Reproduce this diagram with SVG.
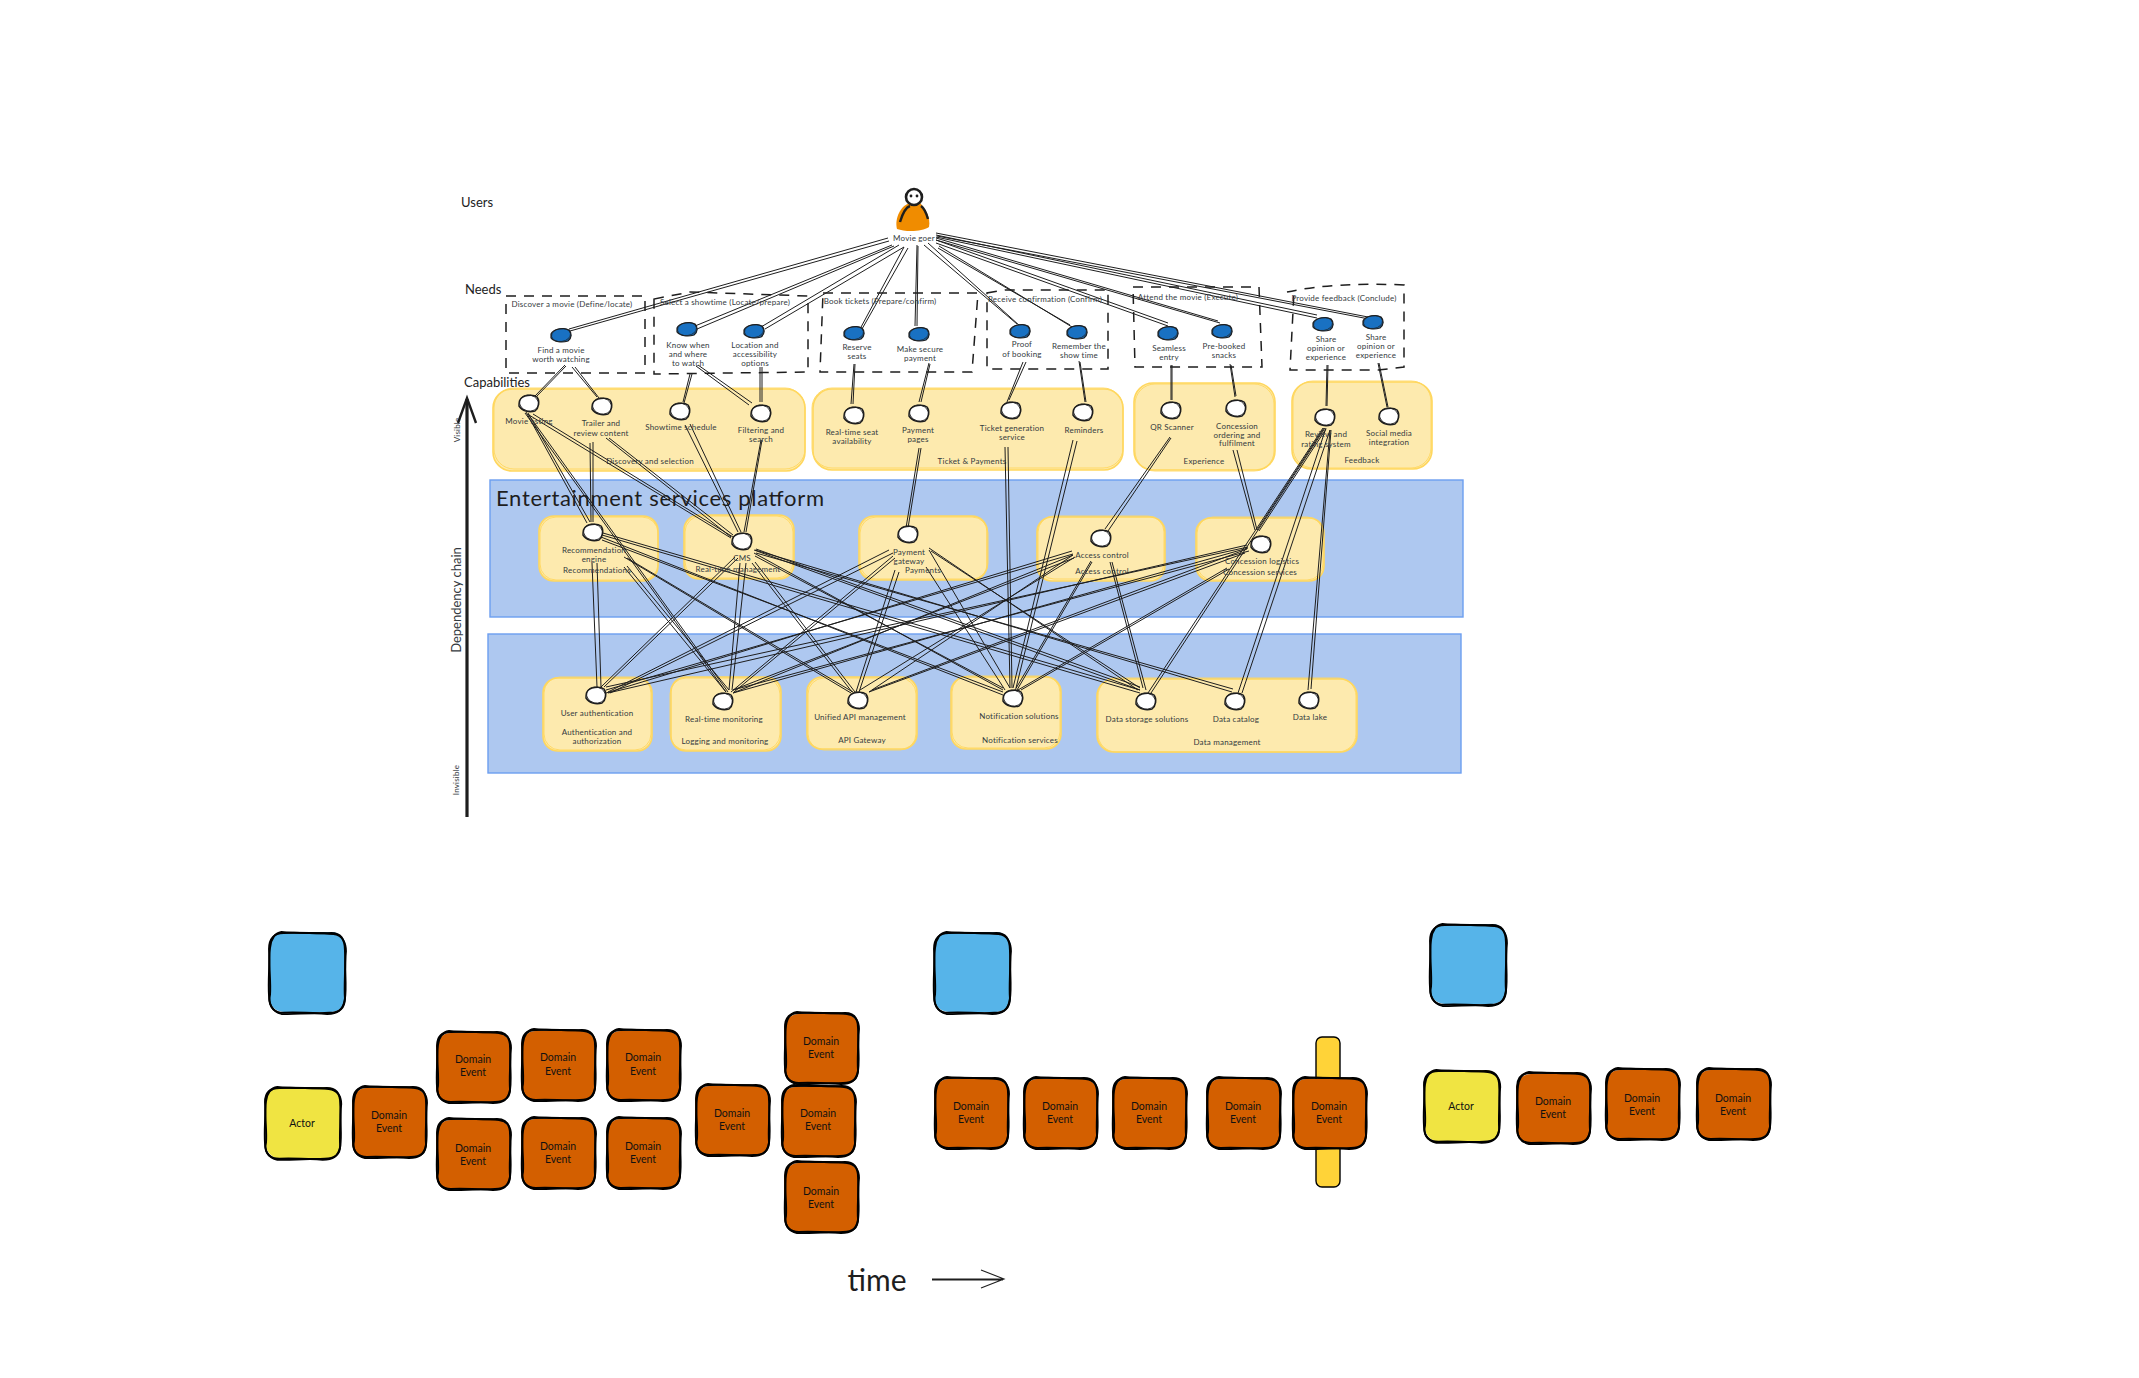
<svg xmlns="http://www.w3.org/2000/svg" width="2139" height="1378" viewBox="0 0 2139 1378">
<style>
text{font-family:"Lato","Noto Sans",sans-serif;fill:#343a40;text-anchor:middle;dominant-baseline:central}
.s{font-size:8px;letter-spacing:.2px}
.m{font-size:10.5px;fill:#111}
.h{font-size:13px;fill:#222;text-anchor:start}
.band{fill:#aec8f0;stroke:#6c9ef0;stroke-width:1.4}
.card{fill:#fdeaae;stroke:#ffd75e;stroke-width:1.6}
.sk{fill:none;stroke:#ffd75e;stroke-width:.9}
.dash{fill:none;stroke:#1e1e1e;stroke-width:1.5;stroke-dasharray:10 8}
#conn path{fill:none;stroke:#1e1e1e;stroke-width:1}
.ol{fill:none;stroke:#000;stroke-width:1.9;vector-effect:non-scaling-stroke}
</style>
<defs>
<g id="capn"><path d="M-9 -3C-7 -8 4 -9 8 -6C11 -2 10 5 6 8C0 10 -7 8 -10 3C-10 0 -10 -2 -9 -3Z" fill="#fff" stroke="#1e1e1e" stroke-width="1.5"/><ellipse rx="9.5" ry="8" fill="none" stroke="#1e1e1e" stroke-width=".8" transform="rotate(14)"/></g>
<g id="needn"><path d="M-10 -1C-8 -6 3 -8 8 -5C11 -2 11 3 7 6C1 8 -7 7 -10 3C-10 1 -10 0 -10 -1Z" fill="#1971c2" stroke="#1e1e1e" stroke-width="1.2"/><ellipse rx="9.5" ry="6.5" fill="none" stroke="#1e1e1e" stroke-width=".7" transform="rotate(-8)"/></g>
<g id="olines"><path class="ol" d="M14 0C30 -1 48 1 60 0C69 0 73 6 73 15C74 30 72 45 73 57C73 66 68 70 58 70C42 71 28 69 14 70C5 70 0 65 0 55C-1 40 1 28 0 14C0 5 5 0 14 0Z"/><path class="ol" d="M12 -1C28 1 50 -1 62 1C70 2 74 8 74 16C72 32 75 44 73 58C71 68 66 71 56 71C40 69 26 72 12 71C3 69 -1 62 1 54C2 40 -1 26 1 13C2 4 6 0 12 -1Z"/></g>
<g id="ev"><rect x="-1" y="1" width="75" height="69" rx="15" fill="#d35f00"/><use href="#olines"/></g>
<g id="act"><rect x="1" y="-1" width="75" height="72" rx="15" fill="#f0e442"/><use href="#olines" transform="scale(1.03 1.01)"/></g>
<g id="blu"><rect x="0" y="-1" width="77" height="80" rx="15" fill="#56b4e9"/><use href="#olines" transform="scale(1.04 1.14)"/></g>
</defs>
<rect width="2139" height="1378" fill="#fff"/>

<g id="labels">
<text class="h" x="461" y="202">Users</text>
<text class="h" x="465" y="289">Needs</text>
<text class="h" x="464" y="382">Capabilities</text>
<text x="457" y="430" class="s" transform="rotate(-90 457 430)">Visible</text>
<text x="456" y="600" style="font-size:13px" transform="rotate(-90 456 600)">Dependency chain</text>
<text x="456" y="780" class="s" transform="rotate(-90 456 780)">Invisible</text>
</g>

<g id="axis" fill="none" stroke="#1e1e1e"><path d="M467 817L467 399" stroke-width="3.2"/><path d="M458 423L467 398L476 423" stroke-width="2.4"/></g>

<g id="platform-band"><rect class="band" x="490" y="480" width="973" height="137"/></g>
<g id="foundation-band"><rect class="band" x="488" y="634" width="973" height="139"/></g>
<text class="h" style="font-size:22px;fill:#1e1e1e" x="496" y="497" textLength="328">Entertainment services platform</text>

<g id="cap-discovery"><rect class="card" x="493" y="389" width="312" height="82" rx="19"/><rect class="sk" x="494" y="388" width="311" height="81" rx="20"/><text class="s" x="650" y="461">Discovery and selection</text></g>
<g id="cap-ticket"><rect class="card" x="813" y="389" width="310" height="81" rx="19"/><rect class="sk" x="812" y="388" width="311" height="80" rx="20"/><text class="s" x="972" y="461">Ticket &amp; Payments</text></g>
<g id="cap-experience"><rect class="card" x="1134" y="383" width="141" height="87" rx="19"/><rect class="sk" x="1135" y="384" width="139" height="87" rx="20"/><text class="s" x="1204" y="461">Experience</text></g>
<g id="cap-feedback"><rect class="card" x="1292" y="382" width="140" height="87" rx="19"/><rect class="sk" x="1293" y="381" width="138" height="87" rx="20"/><text class="s" x="1362" y="460">Feedback</text></g>
<g id="plat-reco"><rect class="card" x="539" y="516" width="119" height="65" rx="15"/><rect class="sk" x="540" y="517" width="118" height="63" rx="16"/></g>
<g id="plat-cms"><rect class="card" x="684" y="515" width="110" height="64" rx="15"/><rect class="sk" x="685" y="516" width="108" height="62" rx="16"/></g>
<g id="plat-pay"><rect class="card" x="859" y="516" width="128" height="64" rx="15"/><rect class="sk" x="860" y="517" width="128" height="62" rx="16"/></g>
<g id="plat-access"><rect class="card" x="1037" y="517" width="128" height="64" rx="15"/><rect class="sk" x="1038" y="516" width="126" height="63" rx="16"/></g>
<g id="plat-conc"><rect class="card" x="1196" y="518" width="128" height="63" rx="15"/><rect class="sk" x="1197" y="517" width="126" height="63" rx="16"/></g>
<g id="f-auth"><rect class="card" x="543" y="678" width="109" height="73" rx="15"/><rect class="sk" x="544" y="677" width="107" height="73" rx="16"/></g>
<g id="f-log"><rect class="card" x="671" y="677" width="110" height="74" rx="15"/><rect class="sk" x="670" y="678" width="110" height="72" rx="16"/></g>
<g id="f-api"><rect class="card" x="807" y="677" width="110" height="72" rx="15"/><rect class="sk" x="808" y="678" width="108" height="72" rx="16"/></g>
<g id="f-not"><rect class="card" x="951" y="677" width="110" height="72" rx="15"/><rect class="sk" x="952" y="676" width="108" height="72" rx="16"/></g>
<g id="f-data"><rect class="card" x="1097" y="679" width="260" height="73" rx="17"/><rect class="sk" x="1098" y="678" width="258" height="74" rx="18"/></g>

<g id="conn">
<path d="M888 238L569 329M889 241L570 331"/>
<path d="M892 245L695 326M894 246L697 329"/>
<path d="M899 245L761 327M904 247L765 329"/>
<path d="M904 247L860 329M908 248L862 329"/>
<path d="M917 245L915 326M918 246L917 326"/>
<path d="M924 245L1017 324M928 243L1020 326"/>
<path d="M938 248L1070 325M939 246L1072 327"/>
<path d="M936 240L1168 323M936 243L1168 326"/>
<path d="M936 238L1218 321M936 240L1220 323"/>
<path d="M936 235L1317 315M936 237L1317 318"/>
<path d="M936 233L1368 317M937 236L1369 319"/>

<path d="M565 365L535 396M566 366L536 397"/>
<path d="M572 367L597 397M575 367L599 398"/>
<path d="M690 374L683 402M692 374L684 403"/>
<path d="M696 366L749 405M698 365L752 403"/>
<path d="M760 367L760 402M762 367L762 402"/>
<path d="M854 364L851 404M855 364L853 404"/>
<path d="M929 363L919 402M930 364L921 402"/>
<path d="M1023 362L1007 402M1026 362L1009 400"/>
<path d="M1079 361L1085 402M1080 362L1086 402"/>
<path d="M1171 365L1171 400M1172 365L1172 400"/>
<path d="M1230 364L1235 397M1231 365L1236 396"/>
<path d="M1327 365L1326 406M1328 365L1327 406"/>
<path d="M1378 363L1387 407M1379 363L1388 407"/>

<path d="M526 412L587 523M528 413L590 522"/>
<path d="M529 415L731 538M533 414L733 537"/>
<path d="M525 413L726 692M528 414L728 692"/>
<path d="M590 443L591 522M593 442L593 522"/>
<path d="M606 438L731 537M609 438L733 535"/>
<path d="M685 425L738 532M690 424L741 532"/>
<path d="M761 440L744 532M762 440L746 532"/>
<path d="M919 448L906 528M921 448L908 528"/>
<path d="M1005 447L1010 688M1008 447L1012 688"/>
<path d="M1073 440L1013 688M1077 441L1016 688"/>
<path d="M1170 437L1105 529M1171 438L1108 531"/>
<path d="M1233 450L1255 530M1237 450L1257 530"/>
<path d="M1323 428L1148 693M1325 428L1151 693"/>
<path d="M1324 428L1257 530M1326 429L1259 531"/>
<path d="M1326 428L1238 693M1330 430L1242 693"/>
<path d="M1330 430L1308 690M1331 430L1311 689"/>

<path d="M592 563L597 687M597 563L601 687"/>
<path d="M624 567L726 692M627 566L729 690"/>
<path d="M624 557L851 693M627 558L853 692"/>
<path d="M601 537L1003 695M602 540L1003 692"/>
<path d="M602 535L1140 693M603 533L1140 690"/>
<path d="M755 550L1232 692M756 553L1233 689"/>
<path d="M735 557L601 687M738 558L604 687"/>
<path d="M740 563L729 690M746 563L732 690"/>
<path d="M752 563L852 692M755 562L855 692"/>
<path d="M754 553L1003 690M755 556L1003 688"/>
<path d="M754 550L1140 690M756 549L1140 687"/>
<path d="M889 550L608 692M893 553L610 693"/>
<path d="M893 556L731 692M895 558L734 692"/>
<path d="M895 570L856 692M899 572L859 692"/>
<path d="M929 550L1010 688M926 567L1005 690"/>
<path d="M929 548L1138 690M931 551L1140 688"/>
<path d="M1072 551L606 693M1073 554L606 690"/>
<path d="M1073 555L733 693M1074 558L733 690"/>
<path d="M1073 555L869 692M1075 557L860 690"/>
<path d="M1091 561L1015 690M1092 562L1017 690"/>
<path d="M1110 562L1143 688M1112 562L1146 690"/>
<path d="M1247 545L608 693M1248 547L606 687"/>
<path d="M1248 548L733 693M1249 551L733 690"/>
<path d="M1245 553L869 692M1247 549L872 690"/>
<path d="M1227 568L1018 690M1229 569L1021 690"/>
</g>

<g id="user"><path d="M897 229C894 218 902 205 908 204L920 203C925 208 931 218 929 227C922 232 905 232 897 229Z" fill="#f08c00"/><path d="M900 222C903 212 907 207 910 206M928 219C926 212 924 208 921 206" fill="none" stroke="#1e1e1e" stroke-width="2.4"/><circle cx="914" cy="197" r="8" fill="#fff" stroke="#1e1e1e" stroke-width="2.6"/><circle cx="911" cy="196" r="1.4" fill="#1e1e1e"/><circle cx="917" cy="196" r="1.4" fill="#1e1e1e"/><text class="s" x="914" y="238">Movie goer</text></g>

<g id="need1"><path class="dash" d="M506 296H645V373H506Z"/><text class="s" x="572" y="304">Discover a movie (Define/locate)</text><use href="#needn" x="561" y="335"/><text class="s" x="561" y="350">Find a movie</text><text class="s" x="561" y="359">worth watching</text></g>
<g id="need2"><path class="dash" d="M654 299L690 292L808 296L808 372L654 374Z"/><text class="s" x="725" y="302">Select a showtime (Locate/prepare)</text><use href="#needn" x="687" y="329"/><text class="s" x="688" y="345">Know when</text><text class="s" x="688" y="354">and where</text><text class="s" x="688" y="363">to watch</text><use href="#needn" x="754" y="331"/><text class="s" x="755" y="345">Location and</text><text class="s" x="755" y="354">accessibility</text><text class="s" x="755" y="363">options</text></g>
<g id="need3"><path class="dash" d="M823 293H978L972 372H820Z"/><text class="s" x="880" y="301">Book tickets (Prepare/confirm)</text><use href="#needn" x="854" y="333"/><text class="s" x="857" y="347">Reserve</text><text class="s" x="857" y="356">seats</text><use href="#needn" x="919" y="334"/><text class="s" x="920" y="349">Make secure</text><text class="s" x="920" y="358">payment</text></g>
<g id="need4"><path class="dash" d="M987 293L1005 290H1108V369H987Z"/><text class="s" x="1045" y="299">Receive confirmation (Confirm)</text><use href="#needn" x="1020" y="331"/><text class="s" x="1022" y="344">Proof</text><text class="s" x="1022" y="354">of booking</text><use href="#needn" x="1077" y="332"/><text class="s" x="1079" y="346">Remember the</text><text class="s" x="1079" y="355">show time</text></g>
<g id="need5"><path class="dash" d="M1133 287H1259L1262 367H1135Z"/><text class="s" x="1188" y="297">Attend the movie (Execute)</text><use href="#needn" x="1168" y="333"/><text class="s" x="1169" y="348">Seamless</text><text class="s" x="1169" y="357">entry</text><use href="#needn" x="1222" y="331"/><text class="s" x="1224" y="346">Pre-booked</text><text class="s" x="1224" y="355">snacks</text></g>
<g id="need6"><path class="dash" d="M1287 292C1320 285 1360 283 1404 285V367L1378 370L1290 370L1294 292"/><text class="s" x="1344" y="298">Provide feedback (Conclude)</text><use href="#needn" x="1323" y="324"/><text class="s" x="1326" y="339">Share</text><text class="s" x="1326" y="348">opinion or</text><text class="s" x="1326" y="357">experience</text><use href="#needn" x="1373" y="322"/><text class="s" x="1376" y="337">Share</text><text class="s" x="1376" y="346">opinion or</text><text class="s" x="1376" y="355">experience</text></g>

<g id="c1"><use href="#capn" x="529" y="403"/><text class="s" x="529" y="421">Movie listing</text></g>
<g id="c2"><use href="#capn" x="602" y="406"/><text class="s" x="601" y="423">Trailer and</text><text class="s" x="601" y="433">review content</text></g>
<g id="c3"><use href="#capn" x="680" y="411"/><text class="s" x="681" y="427">Showtime schedule</text></g>
<g id="c4"><use href="#capn" x="761" y="413"/><text class="s" x="761" y="430">Filtering and</text><text class="s" x="761" y="439">search</text></g>
<g id="c5"><use href="#capn" x="854" y="415"/><text class="s" x="852" y="432">Real-time seat</text><text class="s" x="852" y="441">availability</text></g>
<g id="c6"><use href="#capn" x="919" y="413"/><text class="s" x="918" y="430">Payment</text><text class="s" x="918" y="439">pages</text></g>
<g id="c7"><use href="#capn" x="1011" y="410"/><text class="s" x="1012" y="428">Ticket generation</text><text class="s" x="1012" y="437">service</text></g>
<g id="c8"><use href="#capn" x="1083" y="412"/><text class="s" x="1084" y="430">Reminders</text></g>
<g id="c9"><use href="#capn" x="1171" y="410"/><text class="s" x="1172" y="427">QR Scanner</text></g>
<g id="c10"><use href="#capn" x="1236" y="408"/><text class="s" x="1237" y="426">Concession</text><text class="s" x="1237" y="435">ordering and</text><text class="s" x="1237" y="443">fulfilment</text></g>
<g id="c11"><use href="#capn" x="1325" y="417"/><text class="s" x="1326" y="434">Review and</text><text class="s" x="1326" y="444">rating system</text></g>
<g id="c12"><use href="#capn" x="1389" y="416"/><text class="s" x="1389" y="433">Social media</text><text class="s" x="1389" y="442">integration</text></g>

<g id="p1"><use href="#capn" x="593" y="532"/><text class="s" x="594" y="550">Recommendation</text><text class="s" x="594" y="559">engine</text><text class="s" x="597" y="570">Recommendations</text></g>
<g id="p2"><use href="#capn" x="742" y="541"/><text class="s" x="742" y="558">CMS</text><text class="s" x="738" y="569">Real-time management</text></g>
<g id="p3"><use href="#capn" x="908" y="534"/><text class="s" x="909" y="552">Payment</text><text class="s" x="909" y="561">gateway</text><text class="s" x="923" y="570">Payments</text></g>
<g id="p4"><use href="#capn" x="1101" y="538"/><text class="s" x="1102" y="555">Access control</text><text class="s" x="1102" y="571">Access control</text></g>
<g id="p5"><use href="#capn" x="1261" y="544"/><text class="s" x="1262" y="561">Concession logistics</text><text class="s" x="1260" y="572">Concession services</text></g>

<g id="n1"><use href="#capn" x="596" y="695"/><text class="s" x="597" y="713">User authentication</text><text class="s" x="597" y="732">Authentication and</text><text class="s" x="597" y="741">authorization</text></g>
<g id="n2"><use href="#capn" x="723" y="701"/><text class="s" x="724" y="719">Real-time monitoring</text><text class="s" x="725" y="741">Logging and monitoring</text></g>
<g id="n3"><use href="#capn" x="858" y="700"/><text class="s" x="860" y="717">Unified API management</text><text class="s" x="862" y="740">API Gateway</text></g>
<g id="n4"><use href="#capn" x="1013" y="698"/><text class="s" x="1019" y="716">Notification solutions</text><text class="s" x="1020" y="740">Notification services</text></g>
<g id="n5"><use href="#capn" x="1146" y="701"/><text class="s" x="1147" y="719">Data storage solutions</text></g>
<g id="n6"><use href="#capn" x="1235" y="701"/><text class="s" x="1236" y="719">Data catalog</text></g>
<g id="n7"><use href="#capn" x="1309" y="700"/><text class="s" x="1310" y="717">Data lake</text></g>
<text class="s" x="1227" y="742">Data management</text>

<g id="blue1"><use href="#blu" x="269" y="933"/></g>
<g id="blue2"><use href="#blu" x="934" y="933"/></g>
<g id="blue3"><use href="#blu" x="1430" y="925"/></g>

<g id="actor1"><use href="#act" x="265" y="1088"/><text class="m" x="302" y="1123">Actor</text></g>
<g id="e1"><use href="#ev" x="353" y="1087"/><text class="m" x="389" y="1115">Domain</text><text class="m" x="389" y="1128">Event</text></g>
<g id="e2"><use href="#ev" x="437" y="1032"/><text class="m" x="473" y="1059">Domain</text><text class="m" x="473" y="1072">Event</text></g>
<g id="e3"><use href="#ev" x="522" y="1030"/><text class="m" x="558" y="1057">Domain</text><text class="m" x="558" y="1071">Event</text></g>
<g id="e4"><use href="#ev" x="607" y="1030"/><text class="m" x="643" y="1057">Domain</text><text class="m" x="643" y="1071">Event</text></g>
<g id="e5"><use href="#ev" x="437" y="1119"/><text class="m" x="473" y="1148">Domain</text><text class="m" x="473" y="1161">Event</text></g>
<g id="e6"><use href="#ev" x="522" y="1118"/><text class="m" x="558" y="1146">Domain</text><text class="m" x="558" y="1159">Event</text></g>
<g id="e7"><use href="#ev" x="607" y="1118"/><text class="m" x="643" y="1146">Domain</text><text class="m" x="643" y="1159">Event</text></g>
<g id="e8"><use href="#ev" x="696" y="1085"/><text class="m" x="732" y="1113">Domain</text><text class="m" x="732" y="1126">Event</text></g>
<g id="e9"><use href="#ev" x="785" y="1013"/><text class="m" x="821" y="1041">Domain</text><text class="m" x="821" y="1054">Event</text></g>
<g id="e10"><use href="#ev" x="782" y="1086"/><text class="m" x="818" y="1113">Domain</text><text class="m" x="818" y="1126">Event</text></g>
<g id="e11"><use href="#ev" x="785" y="1162"/><text class="m" x="821" y="1191">Domain</text><text class="m" x="821" y="1204">Event</text></g>

<g id="e12"><use href="#ev" x="935" y="1078"/><text class="m" x="971" y="1106">Domain</text><text class="m" x="971" y="1119">Event</text></g>
<g id="e13"><use href="#ev" x="1024" y="1078"/><text class="m" x="1060" y="1106">Domain</text><text class="m" x="1060" y="1119">Event</text></g>
<g id="e14"><use href="#ev" x="1113" y="1078"/><text class="m" x="1149" y="1106">Domain</text><text class="m" x="1149" y="1119">Event</text></g>
<g id="e15"><use href="#ev" x="1207" y="1078"/><text class="m" x="1243" y="1106">Domain</text><text class="m" x="1243" y="1119">Event</text></g>
<g id="bar"><rect x="1316" y="1037" width="24" height="150" rx="6" fill="#ffd338"/><rect x="1316" y="1037" width="24" height="150" rx="6" fill="none" stroke="#000" stroke-width="1.4"/></g>
<g id="e16"><use href="#ev" x="1293" y="1078"/><text class="m" x="1329" y="1106">Domain</text><text class="m" x="1329" y="1119">Event</text></g>

<g id="actor2"><use href="#act" x="1424" y="1071"/><text class="m" x="1461" y="1106">Actor</text></g>
<g id="e17"><use href="#ev" x="1517" y="1073"/><text class="m" x="1553" y="1101">Domain</text><text class="m" x="1553" y="1114">Event</text></g>
<g id="e18"><use href="#ev" x="1606" y="1069"/><text class="m" x="1642" y="1098">Domain</text><text class="m" x="1642" y="1111">Event</text></g>
<g id="e19"><use href="#ev" x="1697" y="1069"/><text class="m" x="1733" y="1098">Domain</text><text class="m" x="1733" y="1111">Event</text></g>

<g id="timeline"><text x="877" y="1279" style="font-size:30px;fill:#1e1e1e">time</text><path d="M932 1279H1003M932 1280H1003M981 1270L1004 1279L981 1288" fill="none" stroke="#1e1e1e" stroke-width="1.1"/></g>
</svg>
